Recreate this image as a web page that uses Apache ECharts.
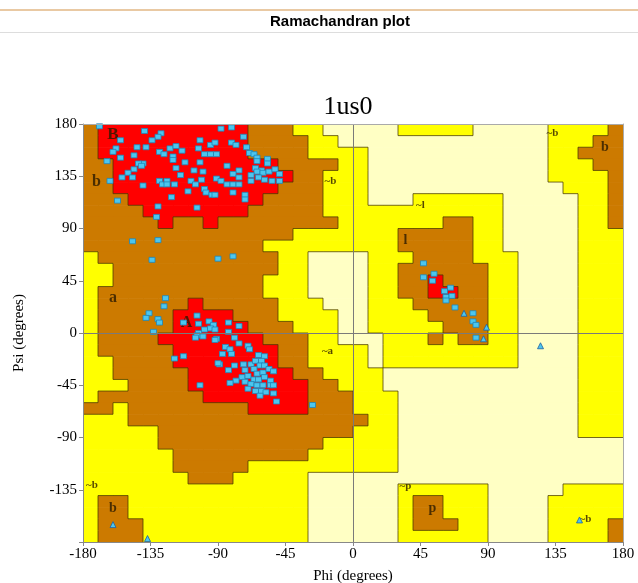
<!DOCTYPE html>
<html><head><meta charset="utf-8">
<script src="https://cdn.jsdelivr.net/npm/echarts@6/dist/echarts.min.js"></script>
<style>html,body{margin:0;padding:0;background:#fff}#c{width:638px;height:583px}</style>
</head><body><div id="c"></div>
<script>
// ---- data ----
const chartTitle = '1us0';
const headerText = 'Ramachandran plot';
const phiTicks = [-180, -135, -90, -45, 0, 45, 90, 135, 180];
const psiTicks = [-180, -135, -90, -45, 0, 45, 90, 135, 180];
// region grid, 10-degree cells, rows from psi=180 (top) downward, columns from phi=-180
// R core, B allowed, Y generous, P disallowed  (run-length encoded)
const regionRuns = [
  "B1 R10 B3 Y2 P5 Y5 P5 Y4 B1",
  "B1 R10 B4 Y2 P14 Y3 B2",
  "B1 R10 B4 Y4 P12 Y2 B3",
  "B2 R11 B4 Y2 P12 Y3 B2",
  "B2 R12 B2 Y3 P12 Y4 B1",
  "B2 R11 B3 Y3 P13 Y3 B1",
  "B3 R9 B4 Y3 P3 Y6 P5 Y2 B1",
  "B4 R7 B5 Y12 P5 Y2 B1",
  "B5 R1 B2 R1 B8 Y7 B2 Y2 P5 Y2 B1",
  "B14 Y7 B5 Y2 P5 Y3",
  "B12 Y9 B5 Y2 P5 Y3",
  "Y1 B12 Y2 P4 Y3 B4 Y3 P4 Y3",
  "Y2 B11 Y2 P4 Y2 B6 Y2 P4 Y3",
  "Y2 B10 Y3 P4 Y2 B2 R1 B3 Y2 P4 Y3",
  "Y1 B11 Y3 P4 Y2 B2 R2 B2 Y2 P4 Y3",
  "Y1 B6 R1 B5 Y3 P3 Y3 B5 Y2 P4 Y3",
  "Y1 B5 R4 B3 Y4 P2 Y4 B4 Y2 P4 Y3",
  "Y1 B5 R5 B3 Y3 P2 Y5 B3 Y2 P4 Y3",
  "Y1 B4 R7 B3 Y2 P3 Y3 B1 Y1 B2 Y2 P4 Y3",
  "Y1 B5 R7 B2 Y4 P1 Y9 P4 Y3",
  "Y2 B4 R7 B2 Y4 P1 Y9 P4 Y3",
  "Y2 B5 R7 B2 Y4 P13 Y3",
  "Y3 B4 R8 B2 Y3 P13 Y3",
  "Y1 B7 R7 B3 Y3 P12 Y3",
  "B2 Y1 B8 R4 B3 Y3 P12 Y3",
  "Y3 B16 Y2 P12 Y3",
  "Y5 B13 Y3 P12 Y3",
  "Y5 B11 Y5 P15",
  "Y6 B9 Y6 P15",
  "Y6 B5 Y10 P15",
  "Y7 B3 Y5 P21",
  "Y15 P6 Y6 P5 Y4",
  "Y1 B2 Y12 P6 Y1 B2 Y3 P4 Y5",
  "Y1 B2 Y12 P6 Y1 B2 Y3 P4 Y5",
  "Y1 B3 Y11 P6 Y1 B3 Y2 P4 Y4 B1",
  "Y1 B3 Y11 P6 Y6 P4 Y4 B1"
];
// residues (non-glycine) [phi, psi]
const residues = [
  [-169,178],[-139,174],[-128,172],[-130,169],[-134,166],[-155,166],[-158,159],[-160,156],[-144,160],[-138,160],
  [-146,153],[-155,151],[-129,156],[-126,154],[-122,159],[-118,161],[-114,157],[-102,166],[-95,162],[-92,164],
  [-103,159],[-99,154],[-95,154],[-91,154],[-120,152],[-120,149],[-112,147],[-102,147],[-164,148],[-140,146],
  [-143,146],[-141,144],[-146,141],[-150,138],[-154,134],[-147,134],[-118,142],[-115,136],[-106,140],[-100,139],
  [-91,133],[-162,131],[-129,131],[-127,128],[-124,131],[-124,128],[-119,128],[-140,127],[-108,131],[-105,128],
  [-101,132],[-99,124],[-98,121],[-94,119],[-92,119],[-110,122],[-121,117],[-157,114],[-130,109],[-104,108],[-131,100],
  [-88,176],[-81,177],[-73,169],[-81,164],[-78,162],[-71,160],[-69,155],[-66,154],[-64,151],[-64,148],
  [-57,150],[-57,146],[-84,144],[-76,140],[-80,137],[-76,134],[-65,142],[-61,140],[-64,139],[-60,138],
  [-56,139],[-52,141],[-49,137],[-68,136],[-63,134],[-59,132],[-68,131],[-54,131],[-49,131],[-88,131],
  [-84,128],[-80,128],[-76,128],[-80,121],[-72,119],[-72,115],
  [-147,79],[-130,80],[-134,63],[-90,64],[-80,66],
  [-125,30],[-126,23],[-136,17],[-138,13],[-130,12],[-129,9],[-133,1],[-113,9],[-104,15],[-103,8],
  [-96,10],[-93,7],[-95,4],[-99,3],[-103,0],[-92,3],[-83,9],[-76,6],[-83,1],
  [-79,-4],[-91,-5],[-76,-9],[-85,-12],[-82,-14],[-70,-11],[-69,-14],[-63,-19],[-59,-20],[-87,-18],
  [-81,-18],[-89,-27],[-79,-28],[-73,-27],[-68,-27],[-65,-24],[-61,-24],[-62,-28],[-59,-28],[-83,-32],
  [-72,-32],[-66,-31],[-64,-35],[-60,-34],[-56,-31],[-53,-33],[-74,-38],[-70,-37],[-66,-40],[-63,-40],
  [-59,-38],[-55,-41],[-78,-41],[-72,-42],[-68,-44],[-64,-45],[-60,-45],[-55,-45],[-82,-43],[-70,-48],
  [-65,-50],[-61,-50],[-58,-51],[-53,-52],[-62,-54],[-53,-45],[-51,-59],[-27,-62],
  [-104,-2],[-100,-3],[-105,-4],[-92,-6],[-119,-22],[-113,-20],[-90,-26],[-102,-45],
  [47,60],[47,48],[54,51],[53,45],[65,39],[61,36],[62,31],[66,32],[62,28],[68,22],
  [80,17],[80,10],[82,7],[82,-4]
];
// glycines [phi, psi]
const glycines = [[74,17],[89,5],[87,-5],[125,-11],[-160,-165],[-137,-177],[151,-161]];
// region labels [phi, psi, text, fontSize]
const regionLabels = [
  [-160,171,'B',17],[-171,130,'b',16],[-160,30,'a',16],[-111,9,'A',16],
  [-15,131,'~b',11],[45,110,'~l',11],[35,80,'l',14],[-17,-16,'~a',11],
  [-174,-131,'~b',11],[-160,-151,'b',14],[35,-132,'~p',11],[53,-151,'p',14],
  [133,172,'~b',11],[168,160,'b',14],[155,-160,'~b',11]
];
const regionColors = { R: '#FF0000', B: '#CC7A00', Y: '#FFFF00', P: '#FFFFC4' };

// ---- build ----
const grid = regionRuns.map(r => {
  let s = '';
  r.split(' ').forEach(t => { s += t[0].repeat(parseInt(t.slice(1), 10)); });
  if (s.length !== 36) console.warn('row length', s.length, r);
  return s;
});
const cells = [];
const edges = [];
for (let i = 0; i < 36; i++) {
  for (let j = 0; j < 36; j++) {
    const c = grid[i][j];
    const phi0 = -180 + 10 * j, psi0 = 170 - 10 * i;
    cells.push([phi0, psi0, c]);
    if (j < 35 && grid[i][j + 1] !== c) edges.push([phi0 + 10, psi0, phi0 + 10, psi0 + 10]);
    if (i < 35 && grid[i + 1][j] !== c) edges.push([phi0, psi0, phi0 + 10, psi0]);
  }
}
const serif = '"Liberation Serif","DejaVu Serif",serif';
const chart = echarts.init(document.getElementById('c'), null, { renderer: 'canvas' });
const axisCommon = {
  type: 'value', min: -180, max: 180, interval: 45, z: 10,
  splitLine: { show: false }
};
chart.setOption({
  animation: false,
  backgroundColor: '#fff',
  title: {
    text: chartTitle, left: 343, top: 89, textAlign: 'center',
    textStyle: { fontFamily: serif, fontSize: 26, fontWeight: 'normal', color: '#000' }
  },
  graphic: [
    { type: 'rect', shape: { x: 0, y: 9, width: 638, height: 2 }, style: { fill: '#E9C9A3' } },
    { type: 'text', x: 340, y: 14, style: { text: headerText, align: 'center', font: 'bold 15px "Liberation Sans", Arial, sans-serif', fill: '#000' } },
    { type: 'rect', shape: { x: 0, y: 32, width: 638, height: 1 }, style: { fill: '#DDDDDD' } }
  ],
  grid: { left: 83, right: 15, top: 124, bottom: 41, outerBoundsMode: 'none', containLabel: false },
  xAxis: [
    Object.assign({}, axisCommon, {
      position: 'bottom',
      axisLine: { show: true, onZero: false, lineStyle: { color: '#888', width: 1 } },
      axisTick: { show: true, length: 4, lineStyle: { color: '#888' } },
      axisLabel: { fontFamily: serif, fontSize: 15, color: '#000', margin: 5, formatter: v => String(v) },
      name: 'Phi (degrees)', nameLocation: 'middle', nameGap: 27,
      nameTextStyle: { fontFamily: serif, fontSize: 15, color: '#000' }
    }),
    Object.assign({}, axisCommon, {
      position: 'top',
      axisLine: { show: true, onZero: false, lineStyle: { color: '#aaa', width: 1 } },
      axisTick: { show: false }, axisLabel: { show: false }
    })
  ],
  yAxis: [
    Object.assign({}, axisCommon, {
      position: 'left',
      axisLine: { show: true, onZero: false, lineStyle: { color: '#888', width: 1 } },
      axisTick: { show: true, length: 4, lineStyle: { color: '#888' } },
      axisLabel: { fontFamily: serif, fontSize: 15, color: '#000', margin: 6,
        formatter: v => (v === -180 ? '' : String(v)) },
      name: 'Psi (degrees)', nameLocation: 'middle', nameGap: 56, nameRotate: 90,
      nameTextStyle: { fontFamily: serif, fontSize: 15, color: '#000' }
    }),
    Object.assign({}, axisCommon, {
      position: 'right',
      axisLine: { show: true, onZero: false, lineStyle: { color: '#aaa', width: 1 } },
      axisTick: { show: false }, axisLabel: { show: false }
    })
  ],
  series: [
    {
      type: 'custom', xAxisIndex: 0, yAxisIndex: 0, silent: true, z: 1,
      data: cells,
      renderItem: function (params, api) {
        const phi0 = api.value(0), psi0 = api.value(1);
        const a = api.coord([phi0, psi0 + 10]);
        const b = api.coord([phi0 + 10, psi0]);
        const code = cells[params.dataIndex][2];
        return { type: 'rect', shape: { x: a[0], y: a[1], width: b[0] - a[0] + 0.6, height: b[1] - a[1] + 0.6 },
          style: { fill: regionColors[code] } };
      }
    },
    {
      type: 'custom', xAxisIndex: 0, yAxisIndex: 0, silent: true, z: 2,
      data: edges,
      renderItem: function (params, api) {
        const a = api.coord([api.value(0), api.value(1)]);
        const b = api.coord([api.value(2), api.value(3)]);
        return { type: 'line', shape: { x1: a[0], y1: a[1], x2: b[0], y2: b[1] },
          style: { stroke: 'rgba(70,55,0,0.75)', lineWidth: 1 } };
      }
    },
    {
      type: 'scatter', z: 3, silent: true,
      data: regionLabels.map(d => ({ value: [d[0], d[1]], label: { formatter: d[2], fontSize: d[3] } })),
      symbolSize: 0,
      label: { show: true, position: 'inside', fontFamily: serif, fontWeight: 'bold', color: '#2a1a00' },
      markLine: {
        silent: true, symbol: 'none', label: { show: false },
        lineStyle: { color: '#7a7a7a', width: 1, type: 'solid' },
        data: [{ xAxis: 0 }, { yAxis: 0 }]
      }
    },
    {
      type: 'scatter', z: 4, data: residues, symbol: 'rect', symbolSize: [6, 5],
      itemStyle: { color: '#4CC6EE', borderColor: '#1F86B8', borderWidth: 0.8, opacity: 1 }
    },
    {
      type: 'scatter', z: 4, data: glycines, symbol: 'triangle', symbolSize: 6,
      itemStyle: { color: '#4CC6EE', borderColor: '#1F5FA0', borderWidth: 0.8, opacity: 1 }
    }
  ]
});
</script></body></html>
